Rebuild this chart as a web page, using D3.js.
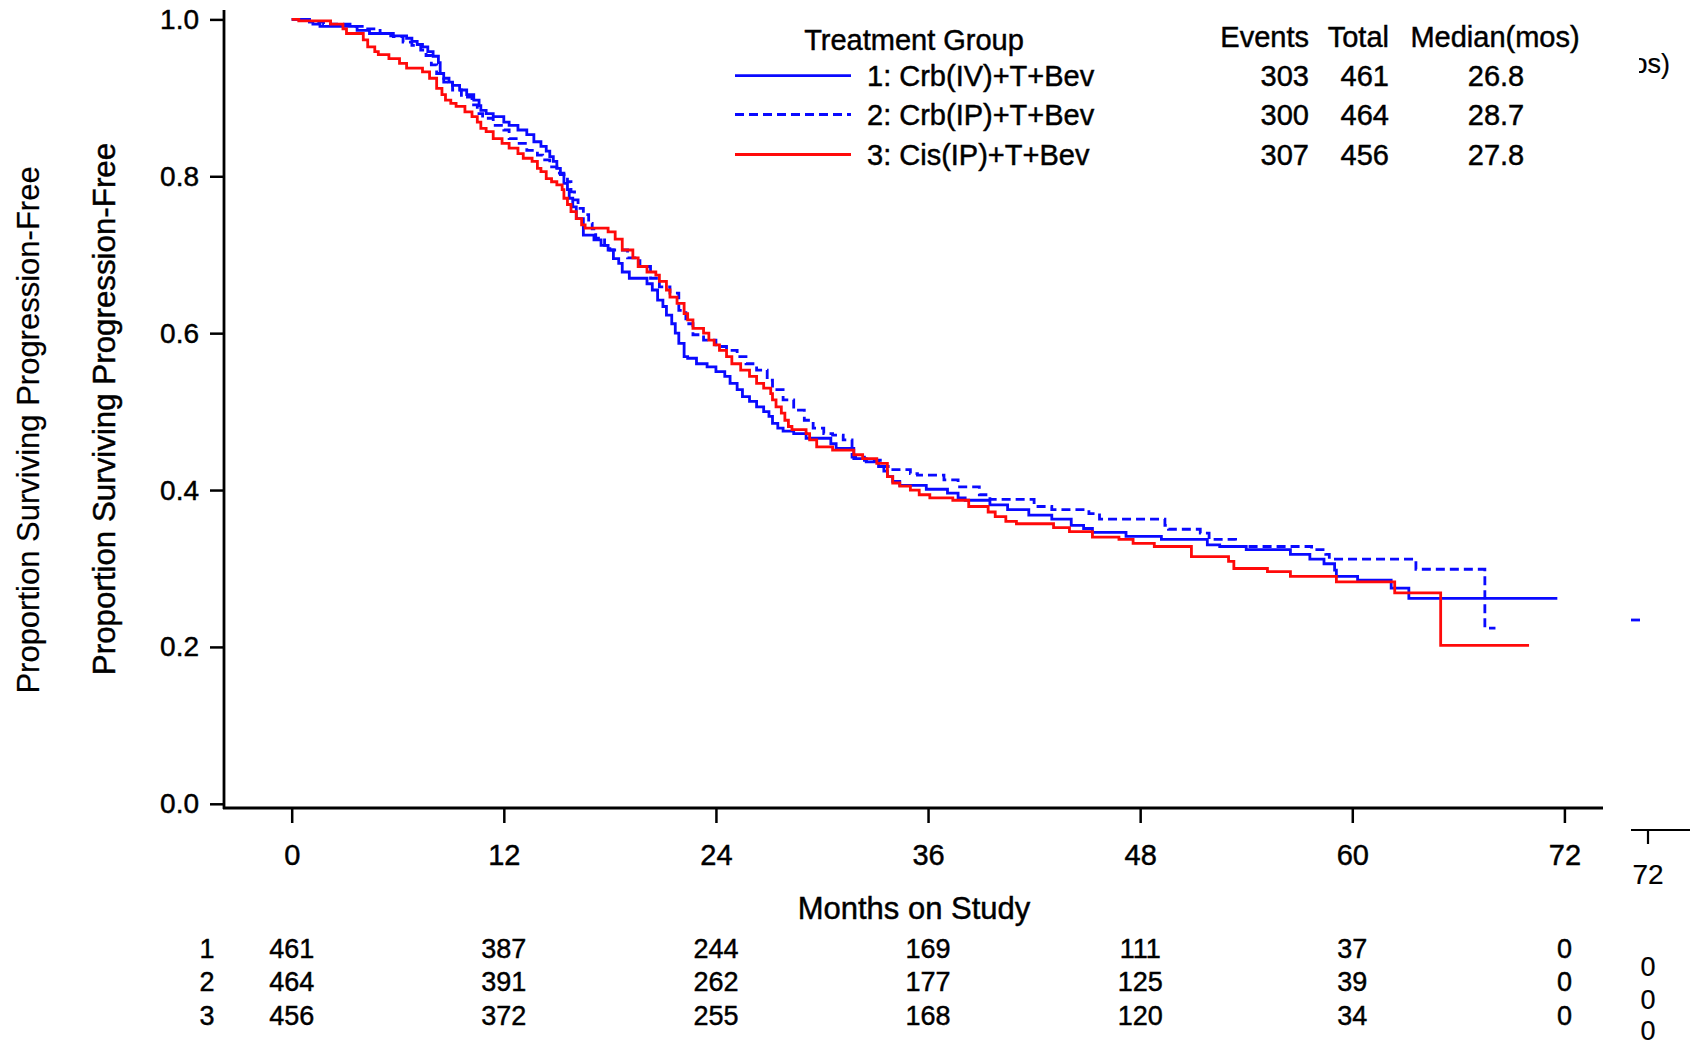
<!DOCTYPE html>
<html>
<head>
<meta charset="utf-8">
<script src="https://cdn.jsdelivr.net/npm/d3@7"></script>
<style>
  body { margin: 0; background: #fff; }
  svg { display: block; font-family: "Liberation Sans", Arial, Helvetica, sans-serif; }
  svg text { stroke: #000; stroke-width: 0.45px; fill: #000; }
</style>
</head>
<body>
<script>
const width = 1694;
const height = 1046;

// Kaplan-Meier steps [month, proportion]
const series1 = [[0,1.0],[1.0,0.997],[1.2,0.994],[1.6,0.991],[3.7,0.986],[4.4,0.982],[5.6,0.979],[6.5,0.976],[6.8,0.972],[7.1,0.968],[7.4,0.965],[7.7,0.959],[8.0,0.953],[8.3,0.945],[8.4,0.931],[8.6,0.925],[8.9,0.92],[9.1,0.916],[9.5,0.91],[9.9,0.904],[10.3,0.897],[10.6,0.89],[10.7,0.884],[11.0,0.88],[11.4,0.876],[12.0,0.869],[12.3,0.865],[12.8,0.859],[13.3,0.853],[13.7,0.844],[14.1,0.838],[14.4,0.832],[14.6,0.825],[14.8,0.819],[15.0,0.81],[15.2,0.802],[15.4,0.791],[15.6,0.783],[15.7,0.772],[15.9,0.761],[16.1,0.746],[16.5,0.725],[17.1,0.719],[17.5,0.712],[17.9,0.706],[18.2,0.695],[18.5,0.689],[18.7,0.678],[19.1,0.67],[20.1,0.663],[20.4,0.655],[20.7,0.642],[21.0,0.634],[21.2,0.623],[21.5,0.612],[21.7,0.6],[21.9,0.587],[22.2,0.57],[22.4,0.568],[22.9,0.561],[23.5,0.557],[24.0,0.551],[24.5,0.545],[24.8,0.536],[25.2,0.528],[25.5,0.519],[25.9,0.513],[26.3,0.506],[26.7,0.5],[27.0,0.494],[27.2,0.485],[27.5,0.479],[27.8,0.475],[28.4,0.472],[29.1,0.466],[30.5,0.459],[30.8,0.453],[31.8,0.44],[32.5,0.436],[33.2,0.43],[33.5,0.424],[33.7,0.417],[34.0,0.411],[34.4,0.406],[35.9,0.401],[37.1,0.396],[37.7,0.39],[38.1,0.387],[39.5,0.381],[40.5,0.375],[41.7,0.368],[43.0,0.363],[44.1,0.355],[44.8,0.351],[45.3,0.346],[47.2,0.341],[49.2,0.337],[51.8,0.33],[52.5,0.328],[54.0,0.324],[56.5,0.318],[57.6,0.312],[58.4,0.306],[59.0,0.298],[59.1,0.29],[60.3,0.285],[62.2,0.275],[63.2,0.262],[71.6,0.262]];

const series2 = [[0,1.0],[1.0,0.997],[1.8,0.994],[3.3,0.991],[4.2,0.988],[5.0,0.982],[5.75,0.978],[6.3,0.971],[6.8,0.967],[7.3,0.961],[7.6,0.954],[7.9,0.942],[8.2,0.931],[8.6,0.92],[9.1,0.91],[9.6,0.901],[10.2,0.891],[10.5,0.88],[10.8,0.874],[11.4,0.865],[12.0,0.859],[12.3,0.848],[12.7,0.842],[13.3,0.833],[13.9,0.827],[14.2,0.821],[14.6,0.812],[15.0,0.804],[15.4,0.802],[15.6,0.793],[15.8,0.78],[16.0,0.77],[16.2,0.759],[16.5,0.751],[16.8,0.74],[17.0,0.733],[17.2,0.721],[17.7,0.712],[18.0,0.706],[19.0,0.696],[19.7,0.685],[20.3,0.67],[20.8,0.659],[21.4,0.651],[21.9,0.629],[22.3,0.612],[22.7,0.598],[23.3,0.591],[24.0,0.583],[24.6,0.578],[25.2,0.57],[25.7,0.561],[26.3,0.553],[26.9,0.54],[27.2,0.528],[27.8,0.515],[28.4,0.502],[29.0,0.489],[29.5,0.479],[30.1,0.472],[30.6,0.47],[31.2,0.464],[31.7,0.442],[32.4,0.438],[33.3,0.43],[33.9,0.426],[35.0,0.421],[35.4,0.419],[36.9,0.413],[37.7,0.404],[38.9,0.394],[39.5,0.388],[42.0,0.379],[43.0,0.375],[45.1,0.37],[45.7,0.363],[49.4,0.355],[49.6,0.35],[51.4,0.345],[51.9,0.337],[53.4,0.328],[57.7,0.324],[58.5,0.318],[58.7,0.312],[63.6,0.299],[67.5,0.224],[68.1,0.224]];

const series3 = [[0,1.0],[0.4,0.998],[2.2,0.994],[2.9,0.988],[3.1,0.982],[4.05,0.974],[4.3,0.965],[4.7,0.959],[4.9,0.955],[5.5,0.95],[6.1,0.944],[6.5,0.938],[7.4,0.933],[7.8,0.925],[8.2,0.912],[8.5,0.904],[8.7,0.897],[9.0,0.893],[9.3,0.889],[9.8,0.882],[10.2,0.876],[10.5,0.869],[10.7,0.861],[11.0,0.857],[11.4,0.848],[11.9,0.842],[12.3,0.836],[12.8,0.829],[13.1,0.823],[13.6,0.819],[13.9,0.81],[14.1,0.806],[14.4,0.797],[14.7,0.793],[15.0,0.789],[15.3,0.783],[15.4,0.772],[15.6,0.764],[15.8,0.755],[16.1,0.746],[16.4,0.738],[16.6,0.734],[17.9,0.729],[18.3,0.72],[18.7,0.706],[19.3,0.696],[19.6,0.685],[20.1,0.678],[20.6,0.674],[20.8,0.666],[21.2,0.655],[21.4,0.646],[21.8,0.638],[22.2,0.625],[22.4,0.617],[22.7,0.606],[23.3,0.6],[23.6,0.591],[23.9,0.585],[24.2,0.578],[24.6,0.57],[24.9,0.561],[25.4,0.553],[25.9,0.545],[26.3,0.536],[26.7,0.53],[27.1,0.523],[27.2,0.515],[27.4,0.506],[27.7,0.498],[27.9,0.489],[28.1,0.481],[28.3,0.477],[29.1,0.472],[29.3,0.464],[29.7,0.455],[30.6,0.451],[31.8,0.445],[32.3,0.44],[33.1,0.434],[33.7,0.417],[34.0,0.409],[34.4,0.405],[35.0,0.4],[35.5,0.394],[36.1,0.39],[37.4,0.387],[38.3,0.379],[39.4,0.372],[39.8,0.366],[40.4,0.36],[41.0,0.357],[43.1,0.352],[44.0,0.347],[45.3,0.34],[46.8,0.337],[47.6,0.332],[48.8,0.328],[50.9,0.315],[53.0,0.309],[53.3,0.3],[55.2,0.296],[56.5,0.29],[59.1,0.283],[62.4,0.269],[65.0,0.202],[70.0,0.202]];

// legend table
const groups = ["1: Crb(IV)+T+Bev", "2: Crb(IP)+T+Bev", "3: Cis(IP)+T+Bev"];
const events = [303, 300, 307];
const totals = [461, 464, 456];
const medians = ["26.8", "28.7", "27.8"];

// axes
const xTicks = [0, 12, 24, 36, 48, 60, 72];
const yTicks = [0, 0.2, 0.4, 0.6, 0.8, 1.0];

// number at risk
const riskLabels = ["1", "2", "3"];
const riskCounts = [
    [461, 387, 244, 169, 111, 37, 0],
    [464, 391, 262, 177, 125, 39, 0],
    [456, 372, 255, 168, 120, 34, 0]
];

const colors = ["#0a0aff", "#0a0aff", "#ff0a0a"];
const dashes = [null, "9,5", null];

const svg = d3.select("body").append("svg")
    .attr("width", width)
    .attr("height", height);

svg.append("rect").attr("width", width).attr("height", height).attr("fill", "#fff");

const x = d3.scaleLinear().domain([0, 72]).range([291.7, 1564.4]);
const y = d3.scaleLinear().domain([0, 1]).range([803.8, 19.4]);

const axisLeftX = 224;
const axisBottomY = 808;

// y axis
const yAxis = svg.append("g")
    .attr("transform", `translate(${axisLeftX},0)`)
    .call(d3.axisLeft(y).tickValues(yTicks).tickFormat(d3.format(".1f")).tickSize(14).tickPadding(11).tickSizeOuter(0));
yAxis.select(".domain").remove();
yAxis.selectAll(".tick line").attr("stroke", "#000").attr("stroke-width", 2.5);
yAxis.selectAll(".tick text").attr("font-size", 28).attr("font-family", null);

// x axis
const xAxis = svg.append("g")
    .attr("transform", `translate(0,${axisBottomY})`)
    .call(d3.axisBottom(x).tickValues(xTicks).tickSize(15).tickPadding(21).tickSizeOuter(0));
xAxis.select(".domain").remove();
xAxis.selectAll(".tick line").attr("stroke", "#000").attr("stroke-width", 2.5);
xAxis.selectAll(".tick text").attr("font-size", 29).attr("font-family", null);

svg.append("line")
    .attr("x1", axisLeftX).attr("x2", axisLeftX)
    .attr("y1", 10).attr("y2", axisBottomY + 1)
    .attr("stroke", "#000").attr("stroke-width", 2.8);
svg.append("line")
    .attr("x1", axisLeftX - 1).attr("x2", 1603)
    .attr("y1", axisBottomY).attr("y2", axisBottomY)
    .attr("stroke", "#000").attr("stroke-width", 2.8);

// axis titles
svg.append("text")
    .attr("transform", "translate(104,409) rotate(-90)")
    .attr("text-anchor", "middle").attr("dominant-baseline", "central")
    .attr("font-size", 31.3)
    .text("Proportion Surviving Progression-Free");
svg.append("text")
    .attr("transform", "translate(28,430) rotate(-90)")
    .attr("text-anchor", "middle").attr("dominant-baseline", "central")
    .attr("font-size", 31)
    .style("stroke-width", "0.2px")
    .text("Proportion Surviving Progression-Free");

svg.append("text")
    .attr("x", 914).attr("y", 908)
    .attr("text-anchor", "middle").attr("dominant-baseline", "central")
    .attr("font-size", 31)
    .text("Months on Study");

// survival curves
const line = d3.line()
    .x(d => x(d[0]))
    .y(d => y(d[1]))
    .curve(d3.curveStepAfter);

[series1, series2, series3].forEach((s, i) => {
    svg.append("path")
        .datum(s)
        .attr("d", line)
        .attr("fill", "none")
        .attr("stroke", colors[i])
        .attr("stroke-width", 2.8)
        .attr("stroke-dasharray", dashes[i]);
});

// legend
const legend = svg.append("g");
legend.append("text")
    .attr("x", 914).attr("y", 40)
    .attr("text-anchor", "middle").attr("dominant-baseline", "central")
    .attr("font-size", 29).text("Treatment Group");
[["Events", 1309], ["Total", 1389]].forEach(([t, xe]) => {
    legend.append("text")
        .attr("x", xe).attr("y", 37)
        .attr("text-anchor", "end").attr("dominant-baseline", "central")
        .attr("font-size", 29).text(t);
});
legend.append("text")
    .attr("x", 1495).attr("y", 37)
    .attr("text-anchor", "middle").attr("dominant-baseline", "central")
    .attr("font-size", 29).text("Median(mos)");

const legendRows = [75.6, 114.5, 154.5];
groups.forEach((g, i) => {
    const yy = legendRows[i];
    legend.append("line")
        .attr("x1", 735).attr("x2", 851)
        .attr("y1", yy).attr("y2", yy)
        .attr("stroke", colors[i]).attr("stroke-width", 2.8)
        .attr("stroke-dasharray", dashes[i]);
    legend.append("text")
        .attr("x", 867).attr("y", yy)
        .attr("dominant-baseline", "central")
        .attr("font-size", 29).text(g);
    legend.append("text")
        .attr("x", 1309).attr("y", yy)
        .attr("text-anchor", "end").attr("dominant-baseline", "central")
        .attr("font-size", 29).text(events[i]);
    legend.append("text")
        .attr("x", 1389).attr("y", yy)
        .attr("text-anchor", "end").attr("dominant-baseline", "central")
        .attr("font-size", 29).text(totals[i]);
    legend.append("text")
        .attr("x", 1496).attr("y", yy)
        .attr("text-anchor", "middle").attr("dominant-baseline", "central")
        .attr("font-size", 29).text(medians[i]);
});

// number at risk table
const riskRows = [948.6, 982, 1015.6];
riskCounts.forEach((row, i) => {
    svg.append("text")
        .attr("x", 207).attr("y", riskRows[i])
        .attr("text-anchor", "middle").attr("dominant-baseline", "central")
        .attr("font-size", 27).text(riskLabels[i]);
    row.forEach((n, j) => {
        svg.append("text")
            .attr("x", x(xTicks[j])).attr("y", riskRows[i])
            .attr("text-anchor", "middle").attr("dominant-baseline", "central")
            .attr("font-size", 27).text(n);
    });
});

// leftover pieces of a second copy at the right edge
svg.append("clipPath").attr("id", "edge")
    .append("rect").attr("x", 1639).attr("y", 0).attr("width", 60).attr("height", 120);
svg.append("text")
    .attr("x", 1670).attr("y", 64)
    .attr("text-anchor", "end").attr("dominant-baseline", "central")
    .attr("clip-path", "url(#edge)")
    .attr("font-size", 27)
    .style("stroke-width", "0.2px")
    .text("(mos)");
svg.append("line")
    .attr("x1", 1631).attr("x2", 1640).attr("y1", 620).attr("y2", 620)
    .attr("stroke", "#0a0aff").attr("stroke-width", 2.8);
svg.append("line")
    .attr("x1", 1631).attr("x2", 1690).attr("y1", 830).attr("y2", 830)
    .attr("stroke", "#000").attr("stroke-width", 2.2);
svg.append("line")
    .attr("x1", 1648).attr("x2", 1648).attr("y1", 830).attr("y2", 844)
    .attr("stroke", "#000").attr("stroke-width", 2.2);
svg.append("text")
    .attr("x", 1648).attr("y", 874)
    .attr("text-anchor", "middle").attr("dominant-baseline", "central")
    .attr("font-size", 28)
    .style("stroke-width", "0.2px")
    .text("72");
[967, 1000, 1031].forEach(yy => {
    svg.append("text")
        .attr("x", 1648).attr("y", yy)
        .attr("text-anchor", "middle").attr("dominant-baseline", "central")
        .attr("font-size", 27)
        .style("stroke-width", "0.2px")
        .text("0");
});
</script>
</body>
</html>
